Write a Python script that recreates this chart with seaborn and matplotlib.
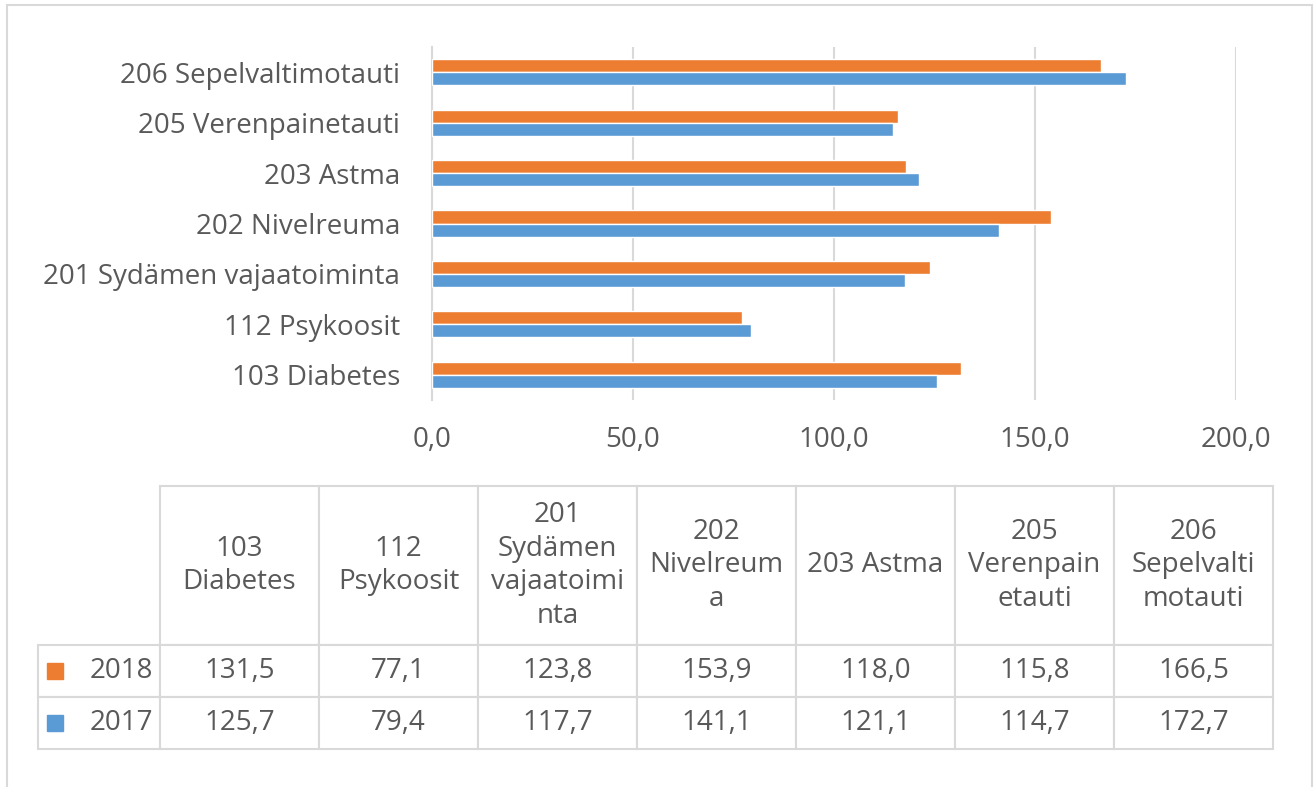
import numpy as np
import pandas as pd
import matplotlib
matplotlib.use("Agg")
import matplotlib.pyplot as plt
from matplotlib.patches import Rectangle
from matplotlib.ticker import FuncFormatter
import seaborn as sns

# data
categories = ["103 Diabetes", "112 Psykoosit", "201 Sydämen vajaatoiminta",
              "202 Nivelreuma", "203 Astma", "205 Verenpainetauti",
              "206 Sepelvaltimotauti"]
table_headers = ["103\nDiabetes", "112\nPsykoosit", "201\nSydämen\nvajaatoimi\nnta",
                 "202\nNivelreum\na", "203 Astma", "205\nVerenpain\netauti",
                 "206\nSepelvalti\nmotauti"]
years = ["2018", "2017"]
values_2018 = [131.5, 77.1, 123.8, 153.9, 118.0, 115.8, 166.5]
values_2017 = [125.7, 79.4, 117.7, 141.1, 121.1, 114.7, 172.7]
x_ticks = [0, 50, 100, 150, 200]

colors = {"2018": "#ED7D31", "2017": "#5B9BD5"}
grey_txt = "#595959"
grey_line = "#D9D9D9"

df = pd.DataFrame({
    "category": categories * 2,
    "year": ["2018"] * len(categories) + ["2017"] * len(categories),
    "value": values_2018 + values_2017,
})

sns.set_style("white")
plt.rcParams["font.family"] = ["Open Sans", "DejaVu Sans"]
FS = 20

W, H = 1314, 787
fig = plt.figure(figsize=(W / 100, H / 100), dpi=100)

# outer chart frame
fig.patches.append(Rectangle((7 / W, -0.01), (1312 - 7) / W, 1 - 5 / H + 0.01,
                             transform=fig.transFigure, fill=False,
                             edgecolor=grey_line, linewidth=1.5))

ax = fig.add_axes([432 / W, 1 - 400 / H, (1236 - 432) / W, (400 - 47) / H])
sns.barplot(data=df, y="category", x="value", hue="year", order=categories[::-1],
            hue_order=years, palette=colors, saturation=1, errorbar=None,
            width=0.52, orient="h", legend=False, ax=ax, zorder=3)

ax.set_xlim(0, 200)
ax.set_ylim(len(categories) - 0.5, -0.5)
ax.set_xticks(x_ticks)
ax.xaxis.set_major_formatter(FuncFormatter(lambda v, p: f"{v:.1f}".replace(".", ",")))
ax.grid(axis="x", color=grey_line, linewidth=1.5, zorder=0)
ax.set_axisbelow(True)
ax.set_xlabel("")
ax.set_ylabel("")
for s in ["top", "right", "bottom"]:
    ax.spines[s].set_visible(False)
ax.spines["left"].set_color(grey_line)
ax.spines["left"].set_linewidth(1.5)
ax.set_yticks(np.arange(-0.5, len(categories)), minor=True)
ax.tick_params(axis="y", which="minor", length=6, width=1.5, color=grey_line)
ax.tick_params(axis="y", which="major", length=0, pad=23, labelsize=FS, labelcolor=grey_txt)
ax.tick_params(axis="x", length=0, pad=19, labelsize=FS, labelcolor=grey_txt)

# data table under the chart
tab_ax = fig.add_axes([38 / W, 1 - 749 / H, (1273 - 38) / W, (749 - 486) / H])
tab_ax.set_xlim(0, 1)
tab_ax.set_ylim(0, 1)
tab_ax.axis("off")

fmt = lambda v: f"{v:.1f}".replace(".", ",")
cell_text = [[years[0]] + [fmt(v) for v in values_2018],
             [years[1]] + [fmt(v) for v in values_2017]]
tw = 1273 - 38
tbl = tab_ax.table(cellText=cell_text, colLabels=[""] + table_headers,
                   colWidths=[122 / tw] + [159 / tw] * len(categories),
                   cellLoc="center", bbox=[0, 0, 1, 1])
tbl.auto_set_font_size(False)
tbl.set_fontsize(FS)
for (r, c), cell in tbl.get_celld().items():
    cell.set_edgecolor(grey_line)
    cell.set_linewidth(1.5)
    txt = cell.get_text()
    txt.set_color(grey_txt)
    txt.set_linespacing(1.26)
    cell.set_height(159 / 263 if r == 0 else 52 / 263)
    if c == 0:
        if r == 0:
            cell.visible_edges = ""
        else:
            cell._loc = "right"
            cell.PAD = 0.06
            txt.set_horizontalalignment("right")

# legend keys in the row label cells
for i, yr in enumerate(years):
    yc = (52 * (len(years) - i) - 26) / 263
    tab_ax.plot([(55 - 38) / tw], [yc], marker="s", markersize=11,
                color=colors[yr], linestyle="none")

fig.savefig("out.png", dpi=100)
